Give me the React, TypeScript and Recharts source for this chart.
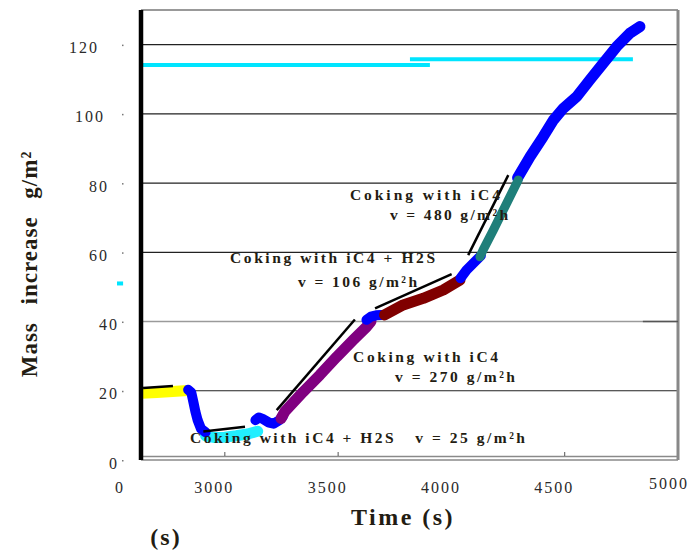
import React from 'react';
import {
  ComposedChart,
  Line,
  XAxis,
  YAxis,
  CartesianGrid,
  ReferenceLine,
  ReferenceDot,
} from 'recharts';

// ---- data (time in s, mass increase in g/m2) ----
const yellowPhase = [
  { t: 2632, m: 19.3 }, { t: 2700, m: 19.5 }, { t: 2770, m: 19.8 }, { t: 2836, m: 20.1 },
];
const blueDrop = [
  { t: 2838, m: 20.3 }, { t: 2852, m: 19.5 }, { t: 2862, m: 16.5 }, { t: 2870, m: 14 },
  { t: 2880, m: 11.5 }, { t: 2895, m: 9 }, { t: 2915, m: 8 },
];
const cyanPhase = [
  { t: 2915, m: 7 }, { t: 2950, m: 6.5 }, { t: 3000, m: 6.6 }, { t: 3050, m: 7 },
  { t: 3100, m: 7.5 }, { t: 3145, m: 8.3 },
];
const blueBump = [
  { t: 3135, m: 11.5 }, { t: 3150, m: 12.3 }, { t: 3170, m: 11.8 }, { t: 3195, m: 10.8 },
  { t: 3215, m: 10.5 }, { t: 3240, m: 11.5 }, { t: 3255, m: 12.5 },
];
const purplePhase = [
  { t: 3248, m: 12 }, { t: 3265, m: 14 }, { t: 3346, m: 19.7 }, { t: 3420, m: 24.6 },
  { t: 3494, m: 29.8 }, { t: 3567, m: 34.7 }, { t: 3626, m: 38.5 }, { t: 3645, m: 40 },
];
const blueStep = [
  { t: 3625, m: 40.5 }, { t: 3645, m: 41.4 }, { t: 3668, m: 41.8 }, { t: 3690, m: 41.9 },
];
const maroonPhase = [
  { t: 3705, m: 41.9 }, { t: 3787, m: 44.8 }, { t: 3876, m: 46.7 }, { t: 3964, m: 49.1 },
  { t: 4038, m: 52.0 },
];
const blueRise = [
  { t: 4040, m: 52.5 }, { t: 4067, m: 54.9 }, { t: 4111, m: 57.8 }, { t: 4130, m: 59 },
];
const tealPhase = [
  { t: 4126, m: 58.7 }, { t: 4140, m: 60.7 }, { t: 4185, m: 66.4 }, { t: 4229, m: 72.2 },
  { t: 4273, m: 78 }, { t: 4295, m: 80.9 },
];
const blueFinal = [
  { t: 4292, m: 81.5 }, { t: 4347, m: 87.6 }, { t: 4405, m: 93.4 }, { t: 4450, m: 98.2 },
  { t: 4494, m: 101.6 }, { t: 4553, m: 105 }, { t: 4611, m: 109.8 }, { t: 4670, m: 114.6 },
  { t: 4729, m: 119.4 }, { t: 4788, m: 123.3 }, { t: 4832, m: 125.2 },
];

// fitted rate lines
const fitYellow = [{ t: 2639, m: 20.8 }, { t: 2771, m: 21.4 }];
const fitCyan = [{ t: 2905, m: 8.2 }, { t: 3089, m: 9.6 }];
const fitPurple = [{ t: 3229, m: 14.4 }, { t: 3574, m: 40.6 }];
const fitMaroon = [{ t: 3663, m: 43.8 }, { t: 4001, m: 53.7 }];
const fitTeal = [{ t: 4074, m: 59.2 }, { t: 4251, m: 82.3 }];

// cyan reference levels
const levelA = [{ t: 2630, m: 114.1 }, { t: 3905, m: 114.1 }];
const levelB = [{ t: 3817, m: 115.8 }, { t: 4801, m: 115.8 }];

// axes
const xTicks = [2630, 3000, 3500, 4000, 4500, 5000];
const xTickLabels = ['0', '3000', '3500', '4000', '4500', '5000'];
const xTickMarks = [3000, 3500, 4500];
const yTicks = [0, 20, 40, 60, 80, 100, 120];
const yTickLabels = ['0', '20', '40', '60', '80', '100', '120'];
const darkGrid = [20, 60, 80, 100, 120];
const lightGrid = [40];

// annotations
const notes = [
  { text: 'Coking with iC4', t: 3552, m: 76.8, w: 150 },
  { text: 'v = 480 g/m²h', t: 3729, m: 70.8, w: 118 },
  { text: 'Coking with iC4 + H2S', t: 3023, m: 58.4, w: 205 },
  { text: 'v = 106 g/m²h', t: 3323, m: 51.7, w: 119 },
  { text: 'Coking with iC4', t: 3566, m: 30.0, w: 145 },
  { text: 'v = 270 g/m²h', t: 3751, m: 24.0, w: 120 },
  { text: 'Coking with iC4 + H2S   v = 25 g/m²h', t: 2846, m: 6.4, w: 335 },
];

const SERIF = '"Liberation Serif", "DejaVu Serif", serif';
const INK = '#231c12';

const XTick = (props: any) => {
  const { x, y, payload } = props;
  const v = payload.value;
  const label = xTickLabels[xTicks.indexOf(v)];
  const shift = v === xTicks[0] ? -21 : v === 5000 ? -8 : -10.5;
  const lift = v === 5000 ? -4 : 0;
  return (
    <g>
      {xTickMarks.includes(v) && (
        <line x1={x} x2={x} y1={y - 8} y2={y - 4} stroke="#555" strokeWidth={1} />
      )}
      <text
        x={x + shift}
        y={y + 27 + lift}
        textAnchor="middle"
        dominantBaseline="central"
        fill="#2a2a2a"
        style={{ fontFamily: SERIF, fontSize: 16, letterSpacing: 2 }}
      >
        {label}
      </text>
    </g>
  );
};

const yLabelRight: Record<number, number> = { 0: -22, 20: -22, 40: -22, 60: -32, 80: -32, 100: -36, 120: -42 };

const YTick = (props: any) => {
  const { x, y, payload } = props;
  const v = payload.value;
  const label = yTickLabels[yTicks.indexOf(v)];
  return (
    <g>
      <text
        x={x + yLabelRight[v]}
        y={y + 3}
        textAnchor="end"
        dominantBaseline="central"
        fill="#2a2a2a"
        style={{ fontFamily: SERIF, fontSize: 16, letterSpacing: 2 }}
      >
        {label}
      </text>
      <rect x={x - 19} y={y} width={1.5} height={1.5} fill="#777" />
    </g>
  );
};

const YTitle = () => (
  <text
    x={29}
    y={264}
    transform="rotate(-90 29 264)"
    textAnchor="middle"
    dominantBaseline="central"
    fill={INK}
    style={{ fontFamily: SERIF, fontSize: 23, fontWeight: 'bold', letterSpacing: 1, wordSpacing: 11 }}
  >
    Mass increase g/m²
  </text>
);

const XTitle = () => (
  <g>
    <text
      x={403}
      y={517}
      textAnchor="middle"
      dominantBaseline="central"
      fill={INK}
      style={{ fontFamily: SERIF, fontSize: 24, fontWeight: 'bold', letterSpacing: 2.5 }}
    >
      Time (s)
    </text>
    <text
      x={166}
      y={537}
      textAnchor="middle"
      dominantBaseline="central"
      fill={INK}
      style={{ fontFamily: SERIF, fontSize: 24, fontWeight: 'bold', letterSpacing: 2 }}
    >
      (s)
    </text>
  </g>
);

const Note = (props: any) => {
  const { viewBox, text, w } = props;
  return (
    <text
      x={viewBox.x}
      y={viewBox.y}
      textLength={w}
      lengthAdjust="spacing"
      dominantBaseline="central"
      fill={INK}
      xmlSpace="preserve"
      style={{ fontFamily: SERIF, fontSize: 15.5, fontWeight: 'bold', whiteSpace: 'pre' }}
    >
      {text}
    </text>
  );
};

const band = (data: any[], color: string, key: string, width = 9, cap: any = 'round') => (
  <Line
    key={key}
    data={data}
    dataKey="m"
    type="linear"
    stroke={color}
    strokeWidth={width}
    strokeLinecap={cap}
    strokeLinejoin="round"
    dot={false}
    activeDot={false}
    isAnimationActive={false}
  />
);

export default function App() {
  return (
    <div style={{ position: 'absolute', left: 0, top: 0, background: '#fff' }}>
      <ComposedChart
        width={693}
        height={552}
        margin={{ top: 10, right: 15, bottom: 62, left: 81 }}
      >
        <CartesianGrid vertical={false} horizontalValues={darkGrid} stroke="#222" strokeWidth={1.2} />
        <CartesianGrid vertical={false} horizontalValues={lightGrid} stroke="#9a9a9a" strokeWidth={1.5} />
        <XAxis
          type="number"
          dataKey="t"
          domain={[2630, 5000]}
          ticks={xTicks}
          allowDataOverflow
          tickLine={false}
          tickSize={0}
          tickMargin={0}
          axisLine={{ stroke: '#8a8a8a', strokeWidth: 1.5 }}
          tick={<XTick />}
          height={30}
          label={<XTitle />}
        />
        <YAxis
          type="number"
          domain={[0, 130]}
          ticks={yTicks}
          allowDataOverflow
          tickLine={false}
          tickSize={0}
          tickMargin={0}
          axisLine={{ stroke: '#000', strokeWidth: 4.5 }}
          tick={<YTick />}
          width={60}
          label={<YTitle />}
        />
        <ReferenceLine y={1} stroke="#8a8a8a" strokeWidth={1.5} />
        <ReferenceLine y={130} stroke="#999" strokeWidth={2} />
        <ReferenceLine x={5000} stroke="#888" strokeWidth={3} />
        <ReferenceLine
          segment={[{ x: 4845, y: 40 }, { x: 5000, y: 40 }]}
          stroke="#555"
          strokeWidth={1.5}
        />
        <ReferenceLine
          segment={[{ x: 2524, y: 51 }, { x: 2551, y: 51 }]}
          stroke="#00e5ff"
          strokeWidth={4}
          ifOverflow="visible"
        />
        {band(levelA, '#00e5ff', 'la', 4, 'butt')}
        {band(levelB, '#00e5ff', 'lb', 4, 'butt')}
        {band(yellowPhase, '#ffff00', 'y', 11, 'butt')}
        {band(cyanPhase, '#22eeff', 'c', 11)}
        {band(blueDrop, '#0000ff', 'b1', 10)}
        {band(blueBump, '#0000ff', 'b2', 10)}
        {band(purplePhase, '#800080', 'p', 11)}
        {band(blueStep, '#0000ff', 'b3', 10)}
        {band(maroonPhase, '#800000', 'mr', 11)}
        {band(blueRise, '#0000ff', 'b4', 10)}
        {band(blueFinal, '#0000ff', 'b5', 11)}
        {band(tealPhase, '#1f7f7a', 'tl', 9)}
        {band(fitYellow, '#000', 'f1', 2.5, 'butt')}
        {band(fitCyan, '#000', 'f2', 2.5, 'butt')}
        {band(fitPurple, '#000', 'f3', 2.5, 'butt')}
        {band(fitMaroon, '#000', 'f4', 2.5, 'butt')}
        {band(fitTeal, '#000', 'f5', 2.5, 'butt')}
        {notes.map((n, i) => (
          <ReferenceDot
            key={'n' + i}
            x={n.t}
            y={n.m}
            r={0}
            fill="none"
            stroke="none"
            ifOverflow="visible"
            label={<Note text={n.text} w={n.w} />}
          />
        ))}
      </ComposedChart>
    </div>
  );
}
